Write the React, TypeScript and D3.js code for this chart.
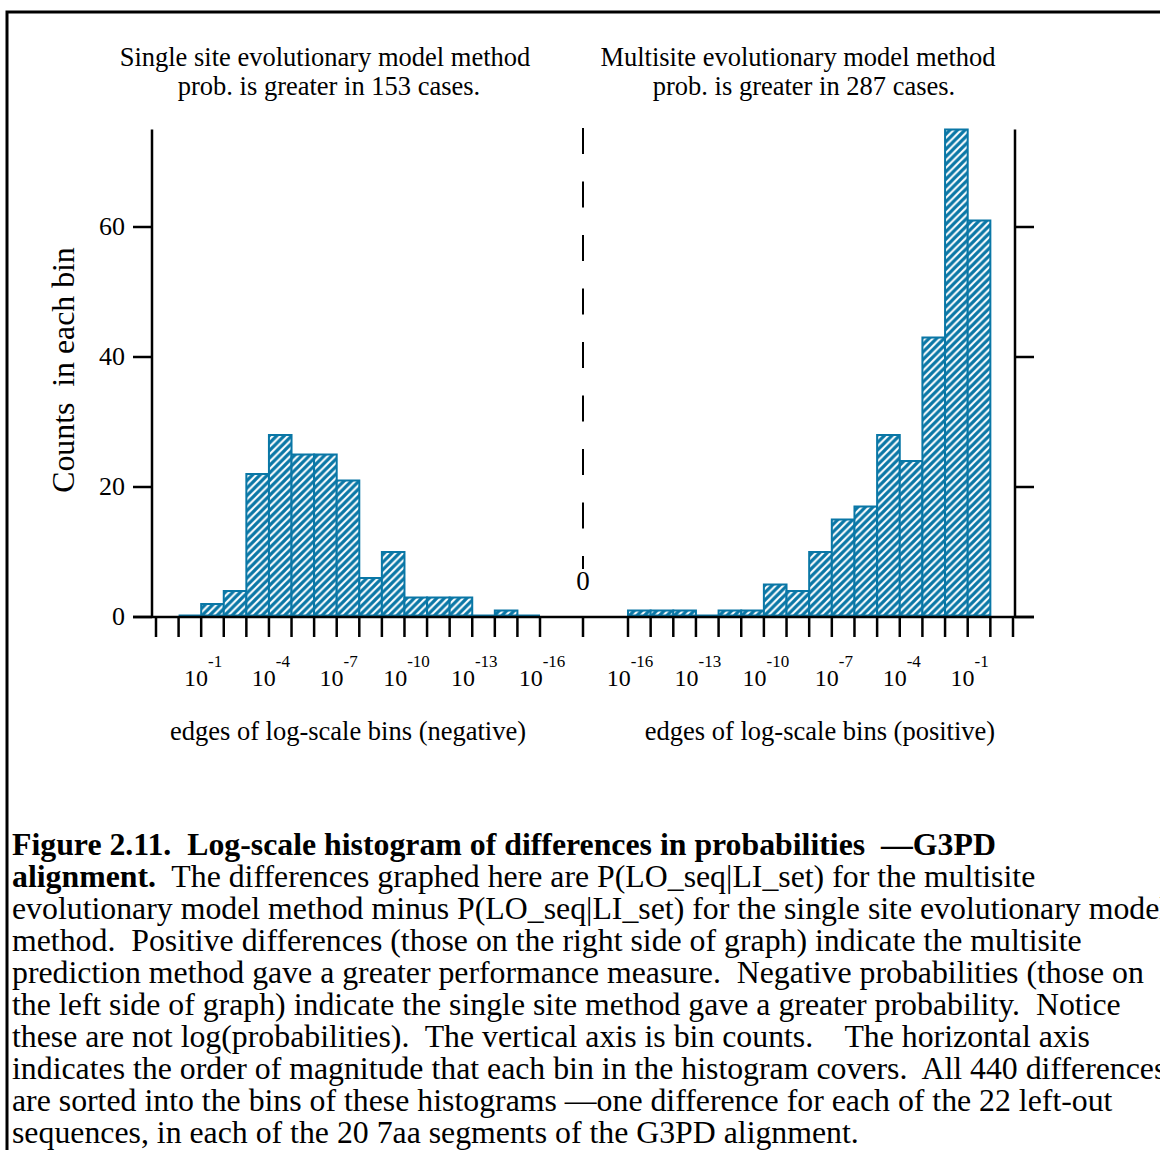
import React from 'react';
import * as d3 from 'd3';

// ---- data ----
const leftEdgeExponents = [1, 0, -1, -2, -3, -4, -5, -6, -7, -8, -9, -10, -11, -12, -13, -14, -15, -16];
const rightEdgeExponents = [-16, -15, -14, -13, -12, -11, -10, -9, -8, -7, -6, -5, -4, -3, -2, -1, 0, 1];
const leftCounts: (number | null)[] = [null, 0, 2, 4, 22, 28, 25, 25, 21, 6, 10, 3, 3, 3, 0, 1, 0];
const rightCounts: (number | null)[] = [1, 1, 1, 0, 1, 1, 5, 4, 10, 15, 17, 28, 24, 43, 75, 61, null];
const leftLabelExponents = [-1, -4, -7, -10, -13, -16];
const rightLabelExponents = [-16, -13, -10, -7, -4, -1];
const yTicks = [0, 20, 40, 60];
const leftTitle = ['Single site evolutionary model method', 'prob. is greater in 153 cases.'];
const rightTitle = ['Multisite evolutionary model method', 'prob. is greater in 287 cases.'];
const leftXTitle = 'edges of log-scale bins (negative)';
const rightXTitle = 'edges of log-scale bins (positive)';
const yTitle = 'Counts  in each bin';
const captionLines: { bold?: string; text?: string }[] = [
  { bold: 'Figure 2.11.  Log-scale histogram of differences in probabilities  \u2014G3PD' },
  { bold: 'alignment.', text: '  The differences graphed here are P(LO_seq|LI_set) for the multisite' },
  { text: 'evolutionary model method minus P(LO_seq|LI_set) for the single site evolutionary model' },
  { text: 'method.  Positive differences (those on the right side of graph) indicate the multisite' },
  { text: 'prediction method gave a greater performance measure.  Negative probabilities (those on' },
  { text: 'the left side of graph) indicate the single site method gave a greater probability.  Notice' },
  { text: 'these are not log(probabilities).  The vertical axis is bin counts.    The horizontal axis' },
  { text: 'indicates the order of magnitude that each bin in the histogram covers.  All 440 differences' },
  { text: 'are sorted into the bins of these histograms \u2014one difference for each of the 22 left-out' },
  { text: 'sequences, in each of the 20 7aa segments of the G3PD alignment.' },
];

const BLUE = '#0a77a6';
const FONT = '"Liberation Serif", "Times New Roman", serif';

export default function App() {
  const W = 1160, H = 1150;
  const xL = d3.scaleLinear().domain([1, -16]).range([156, 540]);
  const xR = d3.scaleLinear().domain([-16, 1]).range([628, 1013]);
  const y = d3.scaleLinear().domain([0, 75]).range([617, 129.5]);
  const yBase = y(0) - 1.5;
  const axisY = y(0);
  const leftAxisX = 152, rightAxisX = 1015, centerX = 583;

  const bars = (edges: number[], counts: (number | null)[], x: d3.ScaleLinear<number, number>, key: string) =>
    counts.map((c, i) => {
      if (c === null) return null;
      const x0 = x(edges[i]), x1 = x(edges[i + 1]);
      const yt = Math.min(y(c), yBase);
      return (
        <path key={key + i} d={`M${x0},${yBase}V${yt}H${x1}V${yBase}Z`}
          fill="url(#hatch)" stroke={BLUE} strokeWidth={2} />
      );
    });

  const ticks = (edges: number[], x: d3.ScaleLinear<number, number>, key: string) =>
    edges.map((e, i) => (
      <line key={key + i} x1={x(e)} x2={x(e)} y1={axisY} y2={axisY + 20} stroke="#000" strokeWidth={2.5} />
    ));

  const labels = (exps: number[], x: d3.ScaleLinear<number, number>, key: string) =>
    exps.map((e, i) => (
      <text key={key + i} x={x(e) + 2} y={686} textAnchor="middle" fontSize={24} fontFamily={FONT}>
        10<tspan fontSize={17} dy={-19}>{String(e)}</tspan>
      </text>
    ));

  return (
    <svg width={W} height={H} style={{ position: 'absolute', left: 0, top: 0, background: '#fff' }}>
      <defs>
        <pattern id="hatch" patternUnits="userSpaceOnUse" width={7.5} height={7.5}>
          <rect width={7.5} height={7.5} fill="#fff" />
          <path d="M-1.875,1.875L1.875,-1.875M0,7.5L7.5,0M5.625,9.375L9.375,5.625" stroke={BLUE} strokeWidth={3.2} />
        </pattern>
      </defs>
      <rect x={0} y={0} width={W} height={H} fill="#fff" />
      {/* frame */}
      <path d={`M7,${H}V12H${W + 5}`} fill="none" stroke="#000" strokeWidth={3} />

      {/* titles */}
      {leftTitle.map((t, i) => (
        <text key={'lt' + i} x={325 + i * 4} y={66 + i * 29} textAnchor="middle" fontSize={26.5} fontFamily={FONT} style={{ whiteSpace: 'pre' }}>{t}</text>
      ))}
      {rightTitle.map((t, i) => (
        <text key={'rt' + i} x={798 + i * 6} y={66 + i * 29} textAnchor="middle" fontSize={26.5} fontFamily={FONT} style={{ whiteSpace: 'pre' }}>{t}</text>
      ))}

      {/* bars */}
      {bars(leftEdgeExponents, leftCounts, xL, 'lb')}
      {bars(rightEdgeExponents, rightCounts, xR, 'rb')}

      {/* axes */}
      <line x1={leftAxisX} x2={leftAxisX} y1={y(75)} y2={axisY} stroke="#000" strokeWidth={2.5} />
      <line x1={rightAxisX} x2={rightAxisX} y1={y(75)} y2={axisY} stroke="#000" strokeWidth={2.5} />
      <line x1={133} x2={1034} y1={axisY} y2={axisY} stroke="#000" strokeWidth={2.5} />
      {yTicks.map((t) => (
        <g key={'yt' + t}>
          <line x1={133} x2={leftAxisX} y1={y(t)} y2={y(t)} stroke="#000" strokeWidth={2.5} />
          <line x1={rightAxisX} x2={1034} y1={y(t)} y2={y(t)} stroke="#000" strokeWidth={2.5} />
          <text x={125} y={y(t) + 8} textAnchor="end" fontSize={26} fontFamily={FONT}>{t}</text>
        </g>
      ))}
      {ticks(leftEdgeExponents, xL, 'ltk')}
      {ticks(rightEdgeExponents, xR, 'rtk')}
      <line x1={centerX} x2={centerX} y1={axisY} y2={axisY + 20} stroke="#000" strokeWidth={2.5} />
      {labels(leftLabelExponents, xL, 'll')}
      {labels(rightLabelExponents, xR, 'rl')}

      {/* center dashed zero line */}
      <line x1={centerX} x2={centerX} y1={128} y2={569} stroke="#000" strokeWidth={2} strokeDasharray="26 27.5" />
      <text x={centerX} y={590} textAnchor="middle" fontSize={27} fontFamily={FONT}>0</text>

      {/* axis titles */}
      <text x={348} y={740} textAnchor="middle" fontSize={26.5} fontFamily={FONT}>{leftXTitle}</text>
      <text x={820} y={740} textAnchor="middle" fontSize={26.5} fontFamily={FONT}>{rightXTitle}</text>
      <text transform="translate(74,370) rotate(-90)" textAnchor="middle" fontSize={31.8} fontFamily={FONT} style={{ whiteSpace: 'pre' }}>{yTitle}</text>

      {/* caption */}
      {captionLines.map((l, i) => (
        <text key={'cap' + i} x={12} y={855 + i * 32} fontSize={31.8} fontFamily={FONT} style={{ whiteSpace: 'pre' }}>
          {l.bold ? <tspan fontWeight="bold">{l.bold}</tspan> : null}
          {l.text ? <tspan>{l.text}</tspan> : null}
        </text>
      ))}
    </svg>
  );
}
